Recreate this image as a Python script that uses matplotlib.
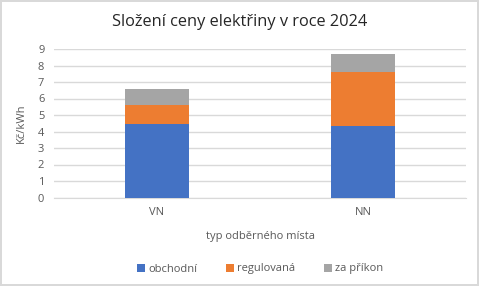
import matplotlib
matplotlib.use('Agg')
import matplotlib.pyplot as plt
import numpy as np

categories = ['VN', 'NN']
obchodni = [4.45, 4.33]
regulovana = [1.15, 3.29]
za_prikon = [0.98, 1.08]
series_names = ['obchodní', 'regulovaná', 'za příkon']
colors = ['#4472C4', '#ED7D31', '#A5A5A5']

plt.rcParams['font.family'] = ['Open Sans', 'DejaVu Sans']

fig = plt.figure(figsize=(4.79, 2.86), dpi=100)
fig.patch.set_edgecolor('#D9D9D9')
fig.patch.set_linewidth(1.5)
ax = fig.add_axes([54/479, 1 - 197.5/286, 412/479, 148.5/286])

x = np.arange(len(categories))
bottom = np.zeros(len(categories))
for vals, name, c in zip([obchodni, regulovana, za_prikon], series_names, colors):
    ax.bar(x, vals, width=0.31, bottom=bottom, color=c, label=name, zorder=3)
    bottom += np.array(vals)

ax.set_xlim(-0.5, 1.5)
ax.set_ylim(0, 9)
ax.set_yticks(range(10))
ax.set_xticks(x)
ax.set_xticklabels(categories)
ax.grid(axis='y', color='#D9D9D9', linewidth=1, zorder=0)
ax.tick_params(length=0, labelsize=8, colors='#595959', pad=7)
for s in ['top', 'right', 'left']:
    ax.spines[s].set_visible(False)
ax.spines['bottom'].set_color('#D9D9D9')

ax.set_ylabel('Kč/kWh', fontsize=8, color='#595959', labelpad=8)
ax.set_xlabel('typ odběrného místa', fontsize=8, color='#595959', labelpad=9)
fig.text(240/479, 1 - 22/286, 'Složení ceny elektřiny v roce 2024', ha='center', va='center',
         fontsize=11.8, color='#262626')

fig.legend(loc='center', bbox_to_anchor=(260/479, 1 - 269/286), ncol=3, frameon=False,
           fontsize=8, labelcolor='#595959', handlelength=0.7, handleheight=0.7,
           handletextpad=0.3, columnspacing=2.6)

fig.savefig('out.png', dpi=100)
